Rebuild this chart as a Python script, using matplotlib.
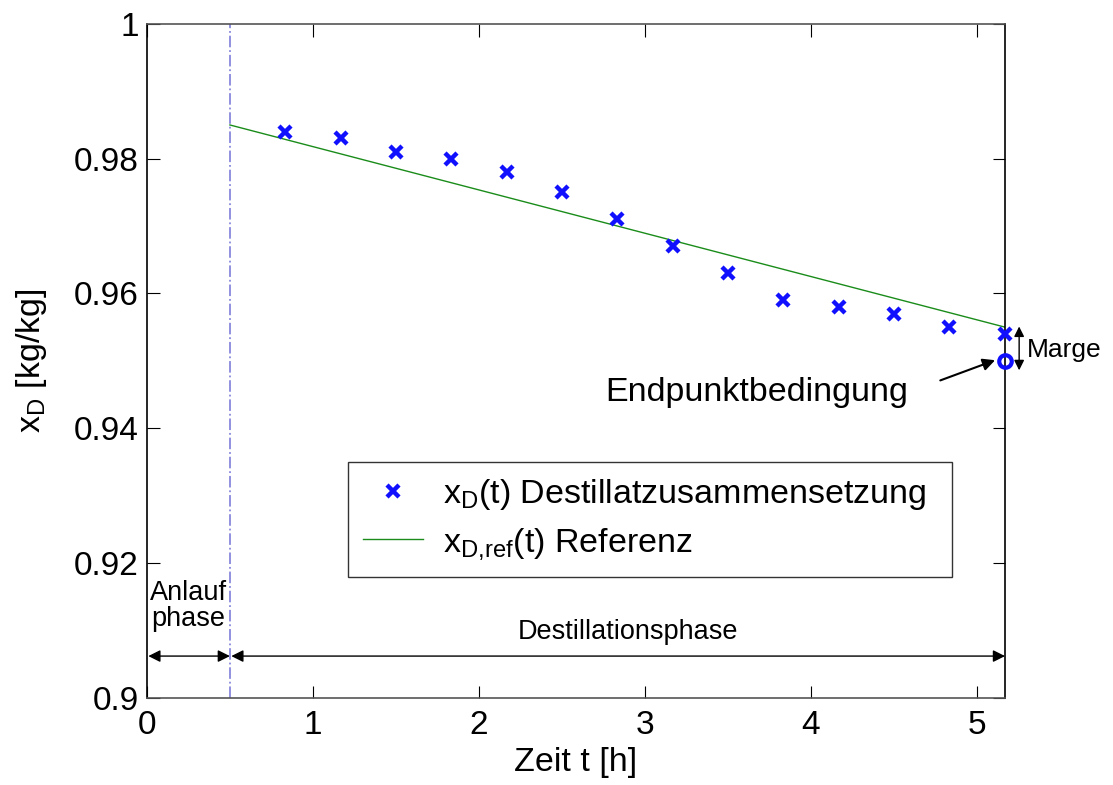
import matplotlib

matplotlib.use("Agg")
import matplotlib.pyplot as plt
import numpy as np

plt.rcParams["font.family"] = ["Liberation Sans", "DejaVu Sans"]
plt.rcParams["mathtext.default"] = "regular"

# measured distillate composition
t_meas = [0.83, 1.17, 1.5, 1.83, 2.17, 2.5, 2.83, 3.17, 3.5, 3.83, 4.17, 4.5, 4.83, 5.17]
xd_meas = [0.984, 0.983, 0.981, 0.980, 0.978, 0.975, 0.971, 0.967, 0.963,
           0.959, 0.958, 0.957, 0.955, 0.954]

# reference trajectory (straight line)
t_ref = [0.5, 5.17]
xd_ref = [0.985, 0.955]

t_end, xd_end = 5.17, 0.950
t_switch = 0.5

fig = plt.figure(figsize=(11.13, 7.85), dpi=100)
ax = fig.add_axes([0.132, 0.111, 0.771, 0.8586])

ax.plot(t_meas, xd_meas, "x", color="#1010ff", ms=9, mew=3.2,
        label=r"x$_D$(t) Destillatzusammensetzung", clip_on=False, zorder=4)
ax.plot(t_ref, xd_ref, "-", color="#1a8c1a", lw=1.0,
        label=r"x$_{D{,}ref}$(t) Referenz")
ax.plot([t_end], [xd_end], "o", mfc="none", mec="#1010ff", ms=9, mew=3,
        clip_on=False, zorder=5)
ax.axvline(t_switch, color="#8888dd", lw=1.3, ls="-.")

ax.set_xlim(0, 5.17)
ax.set_ylim(0.9, 1.0)
ax.set_xticks([0, 1, 2, 3, 4, 5])
ax.set_xticklabels(["0", "1", "2", "3", "4", "5"])
ax.set_yticks([0.9, 0.92, 0.94, 0.96, 0.98, 1.0])
ax.set_yticklabels(["0.9", "0.92", "0.94", "0.96", "0.98", "1"])
ax.tick_params(direction="in", length=9, labelsize=24, top=True, right=True)
ax.tick_params(axis="x", pad=9)
ax.tick_params(axis="y", pad=6)
ax.set_xlabel("Zeit t [h]", fontsize=24.5, labelpad=4)
ax.set_ylabel(r"x$_D$ [kg/kg]", fontsize=24.5, labelpad=18)
for name, s in ax.spines.items():
    s.set_linewidth(1.2)
    if name in ("top", "bottom"):
        s.set_color("#555555")

# phase arrows
y_arr = 0.9062
arr = dict(arrowstyle="<|-|>", color="black", lw=1.0, mutation_scale=18,
           shrinkA=0, shrinkB=1)
ax.annotate("", xy=(0.0, y_arr), xytext=(t_switch, y_arr), arrowprops=arr)
ax.annotate("", xy=(t_switch, y_arr), xytext=(5.17, y_arr), arrowprops=arr)
ax.text(0.25, 0.9097, "Anlauf\nphase", fontsize=19.5, ha="center", va="bottom",
        linespacing=1.0)
ax.text(2.9, 0.9098, "Destillationsphase", fontsize=19.5, ha="center", va="center")

# margin arrow
ax.annotate("", xy=(5.255, 0.9551), xytext=(5.255, 0.9486),
            arrowprops=dict(arrowstyle="<|-|>", color="black", lw=1.0,
                            mutation_scale=15, shrinkA=0, shrinkB=0),
            annotation_clip=False)
ax.text(5.3, 0.9516, "Marge", fontsize=19, ha="left", va="center")

# endpoint annotation
ax.annotate("", xy=(5.11, 0.9501), xytext=(4.78, 0.9471),
            arrowprops=dict(arrowstyle="-|>", color="black", lw=1.5,
                            mutation_scale=18, shrinkA=0, shrinkB=0))
ax.text(2.76, 0.9453, "Endpunktbedingung", fontsize=24.5, ha="left", va="center")

leg = ax.legend(loc="lower left", bbox_to_anchor=(0.2343, 0.1795, 0.704, 0.169),
                mode="expand", fontsize=24.5, frameon=True, fancybox=False,
                borderaxespad=0, handlelength=1.75, handletextpad=0.6,
                labelspacing=0.4, borderpad=0.45)
leg.get_frame().set_edgecolor("black")
leg.get_frame().set_linewidth(1.0)

fig.savefig("out.png", dpi=100)
